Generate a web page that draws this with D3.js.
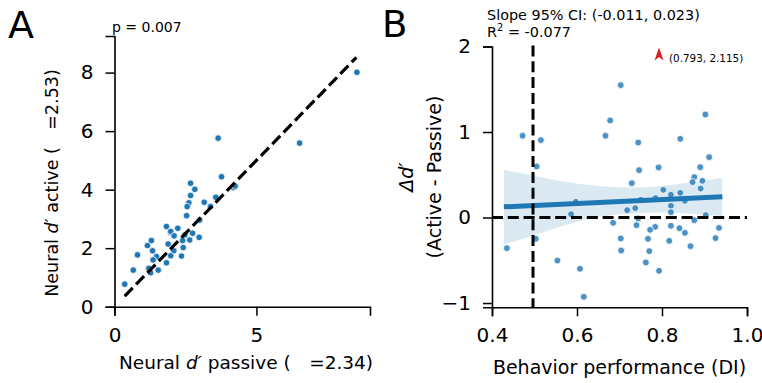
<!DOCTYPE html>
<html><head><meta charset="utf-8">
<script src="https://cdn.jsdelivr.net/npm/d3@7"></script>
<style>
body{margin:0;background:#fff;}
text{font-family:"DejaVu Sans",sans-serif;fill:#000;}
</style></head><body>
<svg id="c" width="762" height="383"></svg>
<script>
// Panel A data: neural d' passive vs active
const aPassive = [8.54,6.52,3.65,3.77,4.20,4.25,2.68,2.83,2.68,2.62,3.57,3.16,3.38,2.56,2.54,3.00,1.83,2.23,1.98,1.98,2.10,2.75,2.48,2.98,2.65,2.40,1.30,1.16,1.89,1.34,2.09,2.42,0.81,1.98,2.36,1.48,1.36,1.83,1.21,1.54,0.66,1.27,0.36];
const aActive  = [8.01,5.59,5.76,4.44,4.07,4.12,4.22,4.01,3.80,3.55,3.74,3.57,3.42,3.42,3.11,2.96,2.74,2.68,2.53,2.57,2.42,2.51,2.45,2.37,2.28,2.26,2.26,2.09,2.14,1.91,1.91,2.02,1.77,1.74,1.73,1.71,1.60,1.50,1.31,1.25,1.25,1.16,0.77];
const identityLine = [0.36, 8.52];
const aXTicks = [0,5];
const aYTicks = [0,2,4,6,8];

// Panel B data: behavior performance vs delta d'
const bDI = [0.703,0.902,0.678,0.472,0.515,0.667,0.843,0.744,0.911,0.505,0.792,0.746,0.890,0.876,0.895,0.872,0.729,0.891,0.803,0.843,0.821,0.597,0.750,0.785,0.854,0.821,0.737,0.718,0.821,0.586,0.903,0.744,0.876,0.685,0.740,0.821,0.784,0.772,0.841,0.934,0.854,0.503,0.703,0.767,0.926,0.817,0.435,0.867,0.704,0.770,0.554,0.762,0.607,0.793,0.616];
const bDelta = [1.548,1.205,1.135,0.956,0.905,0.956,0.920,0.877,0.706,0.597,0.585,0.554,0.589,0.472,0.429,0.414,0.402,0.339,0.324,0.289,0.266,0.184,0.207,0.227,0.195,0.137,0.110,0.086,0.063,0.039,0.028,-0.011,-0.031,-0.062,-0.089,-0.097,-0.109,-0.144,-0.125,-0.121,-0.179,-0.249,-0.245,-0.249,-0.241,-0.273,-0.358,-0.335,-0.386,-0.393,-0.503,-0.526,-0.600,-0.623,-0.927];
const regX = [0.428, 0.942];
const regY = [0.125, 0.242];
const bandX  = [0.428,0.489,0.567,0.646,0.725,0.803,0.882,0.942];
const bandHi = [0.556,0.499,0.421,0.371,0.351,0.371,0.421,0.463];
const bandLo = [-0.314,-0.226,-0.097,0.000,0.047,0.058,0.039,0.019];
const outlier = {x:0.793, y:2.115, label:"(0.793, 2.115)"};
const chanceDI = 0.5;
const bXTicks = [0.4,0.6,0.8,1.0];
const bYTicks = [-1,0,1,2];

const svg = d3.select("#c");
const blue = "#1f77b4";

function styleAxis(g){
  g.select(".domain").attr("stroke","#000").attr("stroke-width",1.6);
  g.selectAll(".tick line").attr("stroke","#000").attr("stroke-width",1.5);
  g.selectAll(".tick text").attr("font-size",20).attr("font-family","DejaVu Sans").attr("fill","#000");
}

// ---------- Panel A ----------
const xA = d3.scaleLinear().domain([0,9]).range([114.5,370]);
const yA = d3.scaleLinear().domain([0,9.25]).range([306.7,36]);
const gA = svg.append("g");

gA.append("g").attr("transform",`translate(0,${yA(0)})`)
  .call(d3.axisBottom(xA).tickValues(aXTicks).tickFormat(d3.format("d")).tickSizeOuter(0).tickSize(9).tickPadding(12))
  .call(styleAxis);
gA.append("g").attr("transform",`translate(${xA(0)},0)`)
  .call(d3.axisLeft(yA).tickValues(aYTicks).tickFormat(d3.format("d")).tickSizeOuter(0).tickSize(9).tickPadding(12))
  .call(styleAxis);

gA.append("g").selectAll("circle").data(aPassive.map((v,i)=>[v,aActive[i]])).join("circle")
  .attr("cx",d=>xA(d[0])).attr("cy",d=>yA(d[1])).attr("r",3.3)
  .attr("fill",blue).attr("stroke","#fff").attr("stroke-width",0.8);

gA.append("line")
  .attr("x1",xA(identityLine[0])).attr("y1",yA(identityLine[0]))
  .attr("x2",xA(identityLine[1])).attr("y2",yA(identityLine[1]))
  .attr("stroke","#000").attr("stroke-width",3.2).attr("stroke-dasharray","11.5,4.8");

svg.append("text").attr("x",8).attr("y",38).attr("font-size",38).text("A");
svg.append("text").attr("x",112).attr("y",32).attr("font-size",14).text("p = 0.007");

const xlabA = svg.append("text").attr("x",246).attr("y",369).attr("text-anchor","middle").attr("font-size",18.5);
xlabA.append("tspan").text("Neural ");
xlabA.append("tspan").attr("font-style","italic").text("d′");
xlabA.append("tspan").text(" passive (\u2002\u2002=2.34)");

const ylabA = svg.append("text").attr("transform","translate(58,183) rotate(-90)").attr("text-anchor","middle").attr("font-size",17.5);
ylabA.append("tspan").text("Neural ");
ylabA.append("tspan").attr("font-style","italic").text("d′");
ylabA.append("tspan").text(" active (\u2002\u2002=2.53)");

// ---------- Panel B ----------
const xB = d3.scaleLinear().domain([0.4,1.0]).range([492,747]);
const yB = d3.scaleLinear().domain([-1.05,2]).range([307.3,46.5]);
const gB = svg.append("g");

gB.append("g").attr("transform",`translate(0,${yB(-1.05)})`)
  .call(d3.axisBottom(xB).tickValues(bXTicks).tickFormat(d3.format(".1f")).tickSizeOuter(0).tickSize(9).tickPadding(12))
  .call(styleAxis);
gB.append("g").attr("transform",`translate(${xB(0.4)},0)`)
  .call(d3.axisLeft(yB).tickValues(bYTicks).tickFormat(d=>d<0?"−"+Math.abs(d):String(d)).tickSizeOuter(0).tickSize(9).tickPadding(12))
  .call(styleAxis);

const band = d3.area().x((d,i)=>xB(bandX[i])).y0((d,i)=>yB(bandLo[i])).y1((d,i)=>yB(bandHi[i])).curve(d3.curveMonotoneX);
gB.append("path").attr("d",band(bandX)).attr("fill",blue).attr("fill-opacity",0.16);

gB.append("g").selectAll("circle").data(bDI.map((v,i)=>[v,bDelta[i]])).join("circle")
  .attr("cx",d=>xB(d[0])).attr("cy",d=>yB(d[1])).attr("r",3.4)
  .attr("fill",blue).attr("fill-opacity",0.8).attr("stroke","#fff").attr("stroke-width",0.8);

gB.append("line").attr("x1",xB(regX[0])).attr("y1",yB(regY[0])).attr("x2",xB(regX[1])).attr("y2",yB(regY[1]))
  .attr("stroke",blue).attr("stroke-width",5);

gB.append("line").attr("x1",xB(0.4)).attr("x2",xB(1.0)).attr("y1",yB(0)).attr("y2",yB(0))
  .attr("stroke","#000").attr("stroke-width",3).attr("stroke-dasharray","11,4.8");
gB.append("line").attr("x1",xB(chanceDI)-1.5).attr("x2",xB(chanceDI)-1.5).attr("y1",yB(2)-1).attr("y2",yB(-1.05))
  .attr("stroke","#000").attr("stroke-width",3).attr("stroke-dasharray","11,4.8");

// outlier arrow marker (clipped point above axis)
const ax = xB(outlier.x), ay = yB(2);
gB.append("path").attr("d",`M${ax},${ay+1} L${ax+4.5},${ay+14} L${ax},${ay+10.5} L${ax-4.5},${ay+14} Z`).attr("fill","#e31a1c");
gB.append("text").attr("x",ax+10).attr("y",ay+15.5).attr("font-size",10.4).text(outlier.label);

svg.append("text").attr("x",382).attr("y",37).attr("font-size",37).text("B");
svg.append("text").attr("x",487).attr("y",20).attr("font-size",14.4).text("Slope 95% CI: (-0.011, 0.023)");
const r2 = svg.append("text").attr("x",487).attr("y",37).attr("font-size",14.4);
r2.append("tspan").text("R");
r2.append("tspan").attr("font-size",10).attr("dy",-6).text("2");
r2.append("tspan").attr("dy",6).text(" = -0.077");

svg.append("text").attr("x",xB(0.7)).attr("y",374).attr("text-anchor","middle").attr("font-size",19).text("Behavior performance (DI)");

const ylB1 = svg.append("text").attr("transform","translate(413,177) rotate(-90)").attr("text-anchor","middle").attr("font-size",19);
ylB1.append("tspan").attr("font-style","italic").text("Δd′");
svg.append("text").attr("transform","translate(441,177) rotate(-90)").attr("text-anchor","middle").attr("font-size",19).text("(Active - Passive)");
</script>
</body></html>
